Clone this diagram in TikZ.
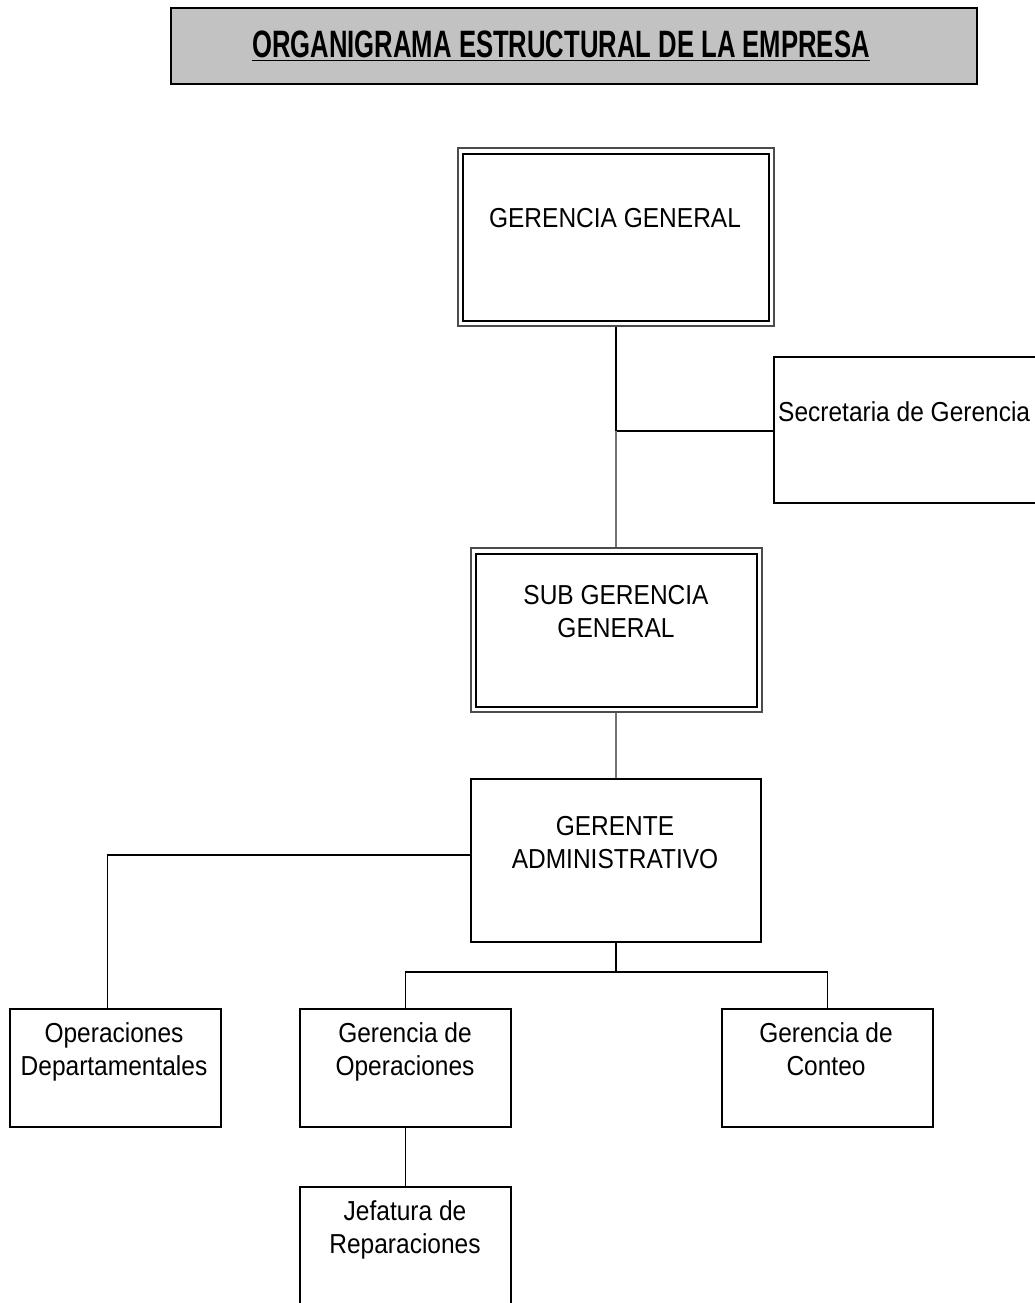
\documentclass[tikz,border=0pt]{standalone}
\usepackage{fontspec}
\setmainfont{Liberation Sans}
% slightly taller lettering
\newcommand{\tallln}[1]{\scalebox{1}[1.12]{#1}}
\begin{document}
\begin{tikzpicture}[x=1pt,y=-1pt,
  box/.style={draw=black,line width=1.7pt,rectangle,inner sep=0pt,fill=white},
  outerframe/.style={draw=black!70,line width=1.8pt,rectangle,inner sep=0pt,fill=white},
  innerframe/.style={draw=black,line width=1.7pt},
  lbl/.style={font=\fontsize{24.5}{33}\selectfont,align=center,inner sep=0pt,anchor=base},
  link/.style={draw=black,line width=1.7pt},
  glink/.style={draw=black!55,line width=1.7pt}]
\useasboundingbox (0,0) rectangle (1034,1303);
\fill[white] (0,0) rectangle (1034,1303);

% heading
\node[box,fill=black!24,minimum width=806pt,minimum height=76pt] (title) at (574,46) {};
\node[inner sep=0pt,anchor=base,font=\fontsize{36}{40}\selectfont\bfseries] (titletext) at (561,58)
  {\scalebox{0.713}[1.06]{\underline{ORGANIGRAMA ESTRUCTURAL DE LA EMPRESA}}};

% general management (double frame)
\node[outerframe,minimum width=316pt,minimum height=178pt] (gg) at (616,237) {};
\draw[innerframe] ([shift={(6pt,-7pt)}]gg.north west) rectangle ([shift={(-6pt,6pt)}]gg.south east);
\node[lbl] (ggt) at (615,227) {\tallln{GERENCIA GENERAL}};

% secretary
\node[box,minimum width=270pt,minimum height=146pt] (sec) at (909,430) {};
\node[lbl,anchor=base west] (sect) at (778,421) {\tallln{Secretaria de Gerencia}};

% deputy general management (double frame)
\node[outerframe,minimum width=291pt,minimum height=164pt] (sg) at (616.5,630) {};
\draw[innerframe] ([shift={(6pt,-7pt)}]sg.north west) rectangle ([shift={(-6pt,6pt)}]sg.south east);
\node[lbl] (sgt) at (616,637) {\tallln{SUB GERENCIA}\\\tallln{GENERAL}};

% administrative manager
\node[box,minimum width=290pt,minimum height=163pt] (ga) at (616,860.5) {};
\node[lbl] (gat) at (615,868) {\tallln{GERENTE}\\\tallln{ADMINISTRATIVO}};

% lower level
\node[box,minimum width=211pt,minimum height=118pt] (od) at (115.5,1068) {};
\node[lbl] (odt) at (114,1075) {\tallln{Operaciones}\\\tallln{Departamentales}};
\node[box,minimum width=211pt,minimum height=118pt] (go) at (405.5,1068) {};
\node[lbl] (got) at (405,1075) {\tallln{Gerencia de}\\\tallln{Operaciones}};
\node[box,minimum width=211pt,minimum height=118pt] (gc) at (827.5,1068) {};
\node[lbl] (gct) at (826,1075) {\tallln{Gerencia de}\\\tallln{Conteo}};
\node[box,minimum width=211pt,minimum height=140pt] (jr) at (405.5,1257) {};
\node[lbl] (jrt) at (405,1253) {\tallln{Jefatura de}\\\tallln{Reparaciones}};

% connectors
\coordinate (j) at (616,431);
\coordinate (odrow) at (0,855);
\coordinate (bus) at (616,972);
\draw[link] (gg.south) -- (j) -- (sec.west |- j);
\draw[glink] (j) -- (j |- sg.north);
\draw[glink] (sg.south -| j) -- (j |- ga.north);
\draw[link] (ga.west |- odrow) -| ([xshift=-8pt]od.north);
\draw[link] (ga.south -| bus) -- (bus);
\draw[link] (go.north) |- (bus) -| (gc.north);
\draw[link] (go.south) -- (jr.north);
\end{tikzpicture}
\end{document}
